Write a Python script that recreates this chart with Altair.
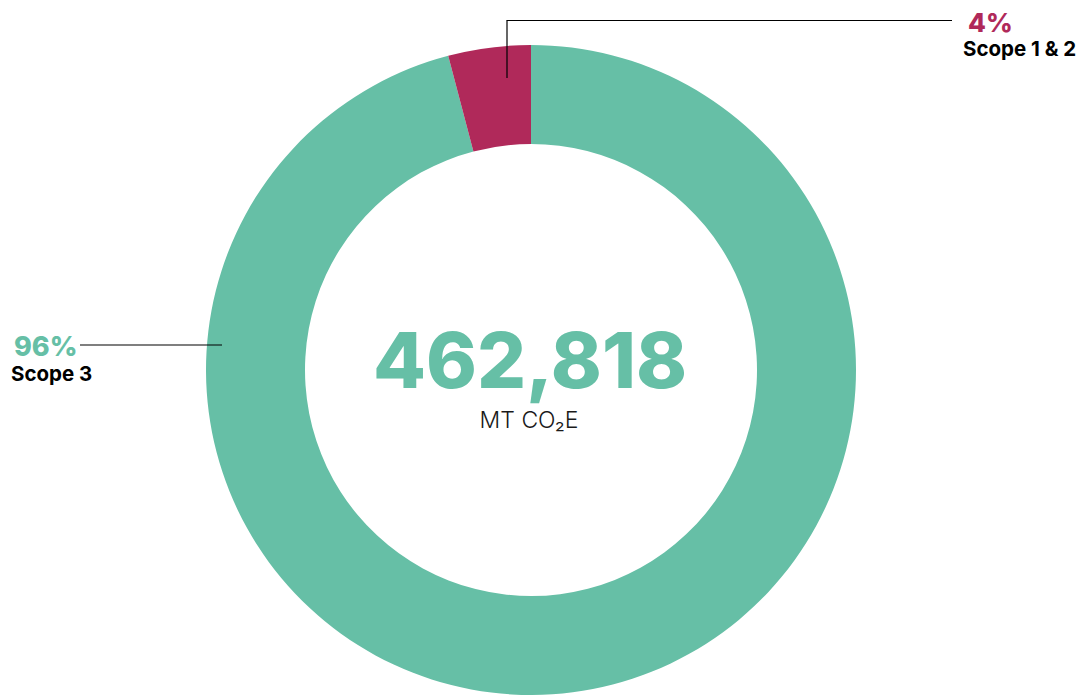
import altair as alt
import pandas as pd

# Data
scopes = ["Scope 3", "Scope 1 & 2"]
shares = [95.9, 4.1]
slice_order = [1, 2]
pct_labels = ["96%", "4%"]
colors = ["#66BFA6", "#B0295A"]
total_label = "462,818"
unit_label = "MT CO₂E"

df = pd.DataFrame({"scope": scopes, "share": shares, "ord": slice_order})

CX, CY = 523, 362
R_OUT, R_IN = 325, 226
FONT = "Inter"

donut = alt.Chart(df).mark_arc(radius=R_OUT, radius2=R_IN, stroke=None).encode(
    theta=alt.Theta("share:Q", stack=True),
    order=alt.Order("ord:Q"),
    color=alt.Color("scope:N", scale=alt.Scale(domain=scopes, range=colors), legend=None),
    x=alt.value(CX),
    y=alt.value(CY),
)

base_txt = alt.Chart(pd.DataFrame({"k": [0]}))

total = base_txt.mark_text(
    font=FONT, fontWeight=800, fontSize=77, color=colors[0], align="center", baseline="alphabetic"
).encode(x=alt.value(CX - 1), y=alt.value(380), text=alt.value(total_label))

unit = base_txt.mark_text(
    font=FONT, fontWeight=300, fontSize=23, color="#1a1a1a", align="center", baseline="alphabetic"
).encode(x=alt.value(CX - 2), y=alt.value(420), text=alt.value(unit_label))

pct_top = base_txt.mark_text(
    font=FONT, fontWeight=800, fontSize=26, color=colors[1], align="left", baseline="alphabetic"
).encode(x=alt.value(960), y=alt.value(24), text=alt.value(pct_labels[1]))

lab_top = base_txt.mark_text(
    font=FONT, fontWeight="bold", fontSize=20.5, color="#000000", align="left", baseline="alphabetic"
).encode(x=alt.value(955), y=alt.value(48), text=alt.value(scopes[1]))

pct_left = base_txt.mark_text(
    font=FONT, fontWeight=800, fontSize=27, color=colors[0], align="left", baseline="alphabetic"
).encode(x=alt.value(6), y=alt.value(348), text=alt.value(pct_labels[0]))

lab_left = base_txt.mark_text(
    font=FONT, fontWeight="bold", fontSize=20.5, color="#000000", align="left", baseline="alphabetic"
).encode(x=alt.value(3), y=alt.value(373), text=alt.value(scopes[0]))

rule_v = base_txt.mark_rule(color="#000000", strokeWidth=1.2).encode(
    x=alt.value(499), y=alt.value(12.5), y2=alt.value(70)
)
rule_h = base_txt.mark_rule(color="#000000", strokeWidth=1.2).encode(
    x=alt.value(498.5), x2=alt.value(944), y=alt.value(12.5)
)
rule_l = base_txt.mark_rule(color="#000000", strokeWidth=1.2).encode(
    x=alt.value(72), x2=alt.value(214), y=alt.value(337)
)

chart = alt.layer(
    donut, rule_v, rule_h, rule_l, total, unit, pct_top, lab_top, pct_left, lab_left
).properties(
    width=1075, height=688, padding=0, autosize=alt.AutoSizeParams(type="none")
).configure_view(stroke=None)

chart.save("out.html", embed_options={"renderer": "svg", "actions": False})
